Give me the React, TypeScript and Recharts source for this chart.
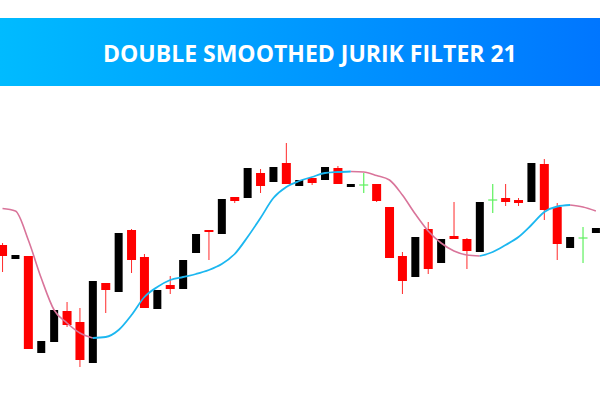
import { ComposedChart, Bar, Line, XAxis, YAxis } from "recharts";

// price units (higher = further up)
const opens = [155, 141, 144, 47, 58, 89, 78, 37, 117, 108, 170, 143, 91, 115, 111, 147, 170, 166, 203, 202, 227, 218, 237, 214, 222, 220, 232, 213, 215, 216, 193, 144, 123, 171, 137, 164, 161, 148, 200, 202, 200, 198, 236, 193, 152, 162, 167];
const highs = [157, 145, 144, 59, 90, 98, 92, 119, 117, 167, 171, 146, 110, 124, 140, 166, 170, 201, 203, 232, 231, 233, 257, 220, 222, 233, 234, 216, 227, 216, 193, 148, 163, 178, 161, 198, 162, 198, 216, 216, 202, 237, 241, 197, 163, 173, 172];
const lows = [128, 141, 51, 47, 58, 73, 33, 37, 87, 108, 127, 92, 91, 106, 111, 147, 140, 166, 197, 202, 207, 218, 216, 214, 215, 220, 216, 213, 207, 198, 142, 106, 123, 126, 137, 161, 131, 148, 187, 194, 194, 198, 180, 140, 152, 137, 167];
const closes = [144, 145, 51, 59, 90, 75, 40, 119, 110, 167, 140, 92, 110, 111, 140, 166, 168, 201, 199, 232, 214, 233, 216, 220, 217, 233, 216, 216, 215, 199, 142, 119, 163, 131, 161, 161, 149, 198, 200, 198, 197, 237, 190, 156, 163, 162, 172];

// double smoothed jurik filter, one value per candle
const jurik = [191.5, 189, 160, 122, 90, 77, 67, 62, 63, 70, 85, 103, 113, 120, 123, 126, 130, 136, 146, 163, 182, 202, 213, 219, 223, 227, 228, 228.5, 228, 224.5, 220, 205, 186, 169, 157, 149, 145, 144, 148, 155, 163, 175, 188, 193.5, 195, 193, 189];
// index ranges where the filter is rising (drawn blue)
const risingRanges = [[7, 27], [37, 44]];

const isRising = (i: number) => risingRanges.some(([a, b]) => i >= a && i <= b);
const isFalling = (i: number) =>
  !isRising(i) || risingRanges.some(([a, b]) => i === a || i === b);

const data = opens.map((open, i) => ({
  i,
  open,
  high: highs[i],
  low: lows[i],
  close: closes[i],
  up: isRising(i) ? jurik[i] : null,
  down: isFalling(i) ? jurik[i] : null,
}));

function Candle(props: any) {
  const { x, y, width, height, payload } = props;
  const { open, close, high, low } = payload;
  const top = Math.min(y, y + height);
  const h = Math.abs(height);
  const range = high - low || 1;
  const py = (v: number) => top + ((high - v) / range) * h;
  const cx = x + width / 2;

  if (open === close) {
    return (
      <g stroke="#5ef05e" strokeWidth={1.2}>
        <line x1={cx} x2={cx} y1={py(high)} y2={py(low)} />
        <line x1={cx - 4.5} x2={cx + 4.5} y1={py(open)} y2={py(open)} />
      </g>
    );
  }

  const bull = close > open;
  const bodyTop = py(Math.max(open, close));
  const bodyH = Math.max(2, py(Math.min(open, close)) - bodyTop);
  if (bull) {
    return <rect x={cx - 4} y={bodyTop} width={8} height={bodyH} fill="#000" />;
  }
  return (
    <g>
      <line x1={cx} x2={cx} y1={py(high)} y2={py(low)} stroke="#ff2a2a" strokeWidth={1} />
      <rect x={cx - 4.5} y={bodyTop} width={9} height={bodyH} fill="#ff0000" />
    </g>
  );
}

export default function App() {
  return (
    <div style={{ position: "absolute", top: 0, left: 0, width: 600, height: 400, background: "#fff", overflow: "hidden" }}>
      <ComposedChart width={600} height={400} data={data} margin={{ top: 0, right: 0, bottom: 0, left: 0 }}>
        <XAxis dataKey="i" type="number" domain={[-0.194, 46.32]} hide allowDataOverflow />
        <YAxis type="number" domain={[0, 400]} hide allowDataOverflow />
        <Bar dataKey={(d: any) => [d.low, d.high]} barSize={9} shape={<Candle />} isAnimationActive={false} />
        <Line dataKey="down" type="monotone" stroke="#d9749a" strokeWidth={1.6} dot={false} activeDot={false} isAnimationActive={false} />
        <Line dataKey="up" type="monotone" stroke="#1cb7f0" strokeWidth={1.8} dot={false} activeDot={false} isAnimationActive={false} />
      </ComposedChart>
      <div
        style={{
          position: "absolute",
          top: 18,
          left: 0,
          width: 600,
          height: 68,
          background: "linear-gradient(90deg, #00bbff, #0076ff)",
        }}
      >
        <span
          style={{
            position: "absolute",
            top: 24,
            left: 103,
            lineHeight: "23px",
            color: "#fff",
            fontFamily: "'Open Sans', sans-serif",
            fontWeight: 700,
            fontSize: 23,
            whiteSpace: "nowrap",
          }}
        >
          DOUBLE SMOOTHED JURIK FILTER 21
        </span>
      </div>
    </div>
  );
}
